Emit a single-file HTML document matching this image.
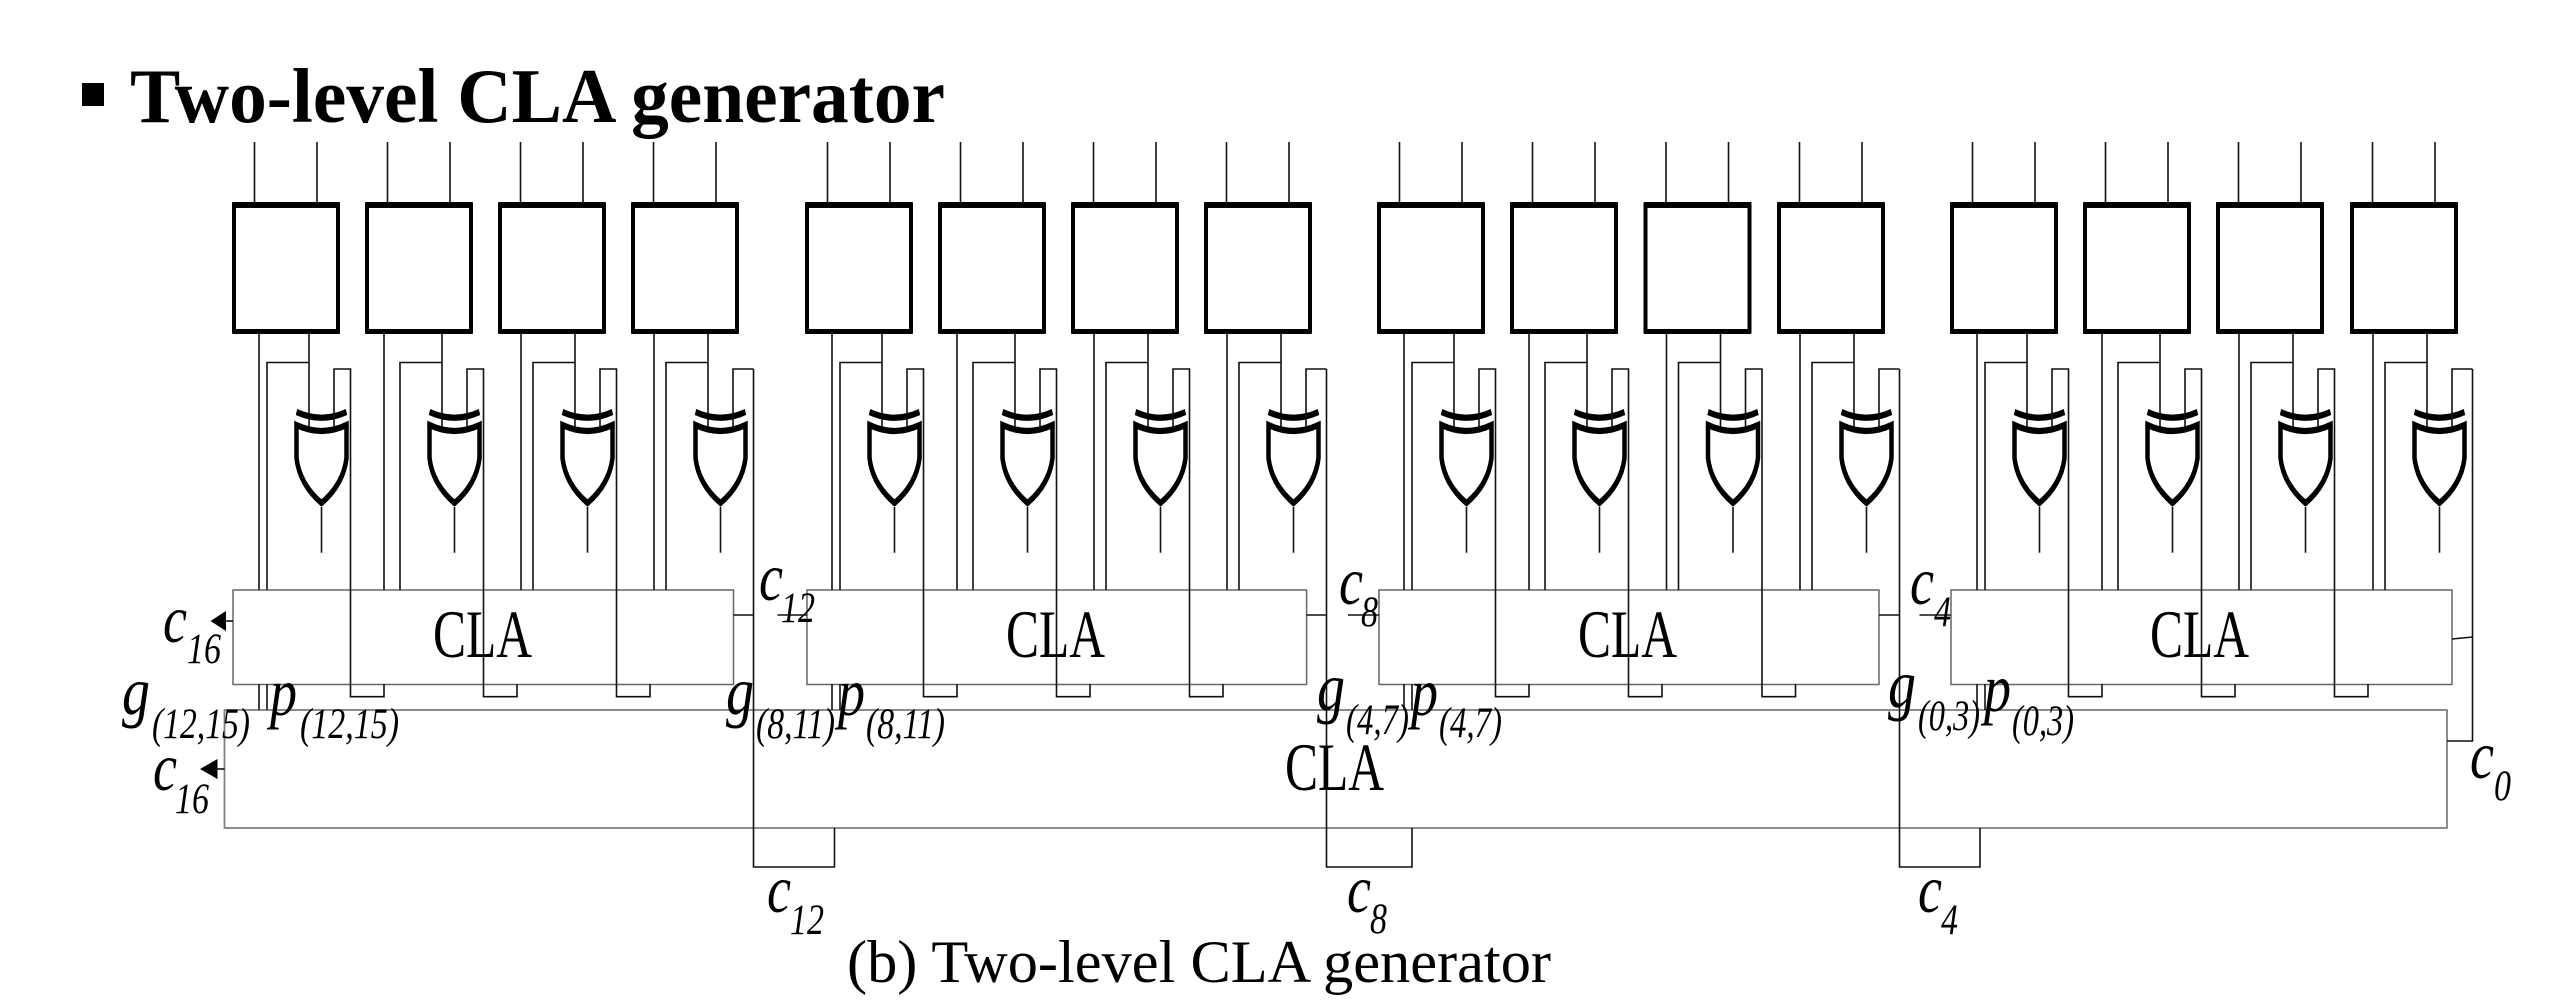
<!DOCTYPE html>
<html><head><meta charset="utf-8"><style>
html,body{margin:0;padding:0;background:#fff;}
svg{display:block;}
text{font-family:"Liberation Serif",serif;fill:#000;}
.i{font-style:italic;}
.c{font-size:68px;}
.s{font-size:43px;}
.w{fill:none;stroke:#111;stroke-width:1.6;}
.b{fill:#fff;stroke:#666;stroke-width:1.5;}
.g{fill:none;stroke:#000;stroke-width:4.5;stroke-linejoin:miter;}
</style></head><body>
<svg width="2570" height="1000" viewBox="0 0 2570 1000" xmlns="http://www.w3.org/2000/svg">
<defs>
<g id="xor">
<g transform="scale(1,1.4)">
<path class="g" d="M-25 294.3Q0 302.5 25 294.3"/>
<path class="g" d="M-25 303.6Q0 312.1 25 303.6V327.1Q22 345.7 0 359.3Q-22 345.7-25 327.1Z"/>
</g>
<path class="w" d="M0 507V552.7"/>
</g>
<g id="common">
<path fill="#000" fill-rule="evenodd" d="M1 202H107Q108 202 108 203V333Q108 334 107 334H1Q0 334 0 333V203Q0 202 1 202ZM4 208V329H104V208Z"/>
<path class="w" d="M22.5 142V202M85 142V202M77 334V428M77 362.5H35V590"/>
<use href="#xor" x="89.5"/>
</g>
<g id="s1"><use href="#common"/><path class="w" d="M27 334V590M27 684V710M35 684V710M102 428V369H118.5V696.7H152V684"/></g>
<g id="s2"><use href="#common"/><path class="w" d="M19 334V590M102 428V369H118.5V696.7H152V684"/></g>
<g id="s3"><use href="#common"/><path class="w" d="M23 334V590M102 428V369H118.5V696.7H152V684"/></g>
<g id="s4"><use href="#common"/><path class="w" d="M23 334V590M102 428V369H122.5"/></g>
</defs>

<rect x="82" y="83" width="22" height="23" fill="#000"/>
<text x="130" y="122" font-size="77" font-weight="bold" textLength="815" lengthAdjust="spacingAndGlyphs">Two-level CLA generator</text>

<rect class="b" x="224.5" y="710" width="2222.5" height="118" style="stroke:#808080;stroke-width:1.8"/>
<rect class="b" x="233" y="590" width="500.5" height="94.5"/>
<rect class="b" x="807" y="590" width="499.6" height="94.5"/>
<rect class="b" x="1379" y="590" width="500" height="94.5"/>
<rect class="b" x="1951" y="590" width="501" height="94.5"/>

<use href="#s1" x="232"/><use href="#s2" x="365"/><use href="#s3" x="498"/><use href="#s4" x="631"/>
<use href="#s1" x="805"/><use href="#s2" x="938"/><use href="#s3" x="1071"/><use href="#s4" x="1204"/>
<use href="#s1" x="1377"/><use href="#s2" x="1510"/><use href="#s3" x="1643.5"/><use href="#s4" x="1777"/>
<use href="#s1" x="1950"/><use href="#s2" x="2083"/><use href="#s3" x="2216"/><use href="#s4" x="2350"/>

<!-- carry routing -->
<path class="w" d="M753.5 369V867H834.5V828M733.5 615H753.5M777.5 615H807"/>
<path class="w" d="M1326.5 369V867H1412V828M1306.6 615H1326.5M1348 615H1379"/>
<path class="w" d="M1899.5 369V867H1980V828M1879 615H1899.5M1919.5 615H1951"/>
<path class="w" d="M2472.5 369V741H2447M2452 639L2472.5 637"/>

<!-- c16 arrows -->
<path d="M210.5 621L226 611V631Z" fill="#000"/><path class="w" d="M226 621H233"/>
<path d="M200 769L217.5 759V779Z" fill="#000"/><path class="w" d="M217 769H224.5"/>

<!-- CLA labels -->
<text class="c" x="433" y="657" textLength="99" lengthAdjust="spacingAndGlyphs">CLA</text>
<text class="c" x="1006" y="657" textLength="99" lengthAdjust="spacingAndGlyphs">CLA</text>
<text class="c" x="1578" y="657" textLength="99" lengthAdjust="spacingAndGlyphs">CLA</text>
<text class="c" x="2150" y="657" textLength="99" lengthAdjust="spacingAndGlyphs">CLA</text>
<text class="c" x="1285" y="790" textLength="99" lengthAdjust="spacingAndGlyphs">CLA</text>

<!-- carries -->
<text class="i c" x="163" y="642" textLength="24" lengthAdjust="spacingAndGlyphs">c</text>
<text class="i s" x="187" y="663" textLength="34" lengthAdjust="spacingAndGlyphs">16</text>
<text class="i c" x="759" y="600" textLength="24" lengthAdjust="spacingAndGlyphs">c</text>
<text class="i s" x="781" y="622" textLength="34" lengthAdjust="spacingAndGlyphs">12</text>
<text class="i c" x="1339" y="604" textLength="24" lengthAdjust="spacingAndGlyphs">c</text>
<text class="i s" x="1361" y="626" textLength="17" lengthAdjust="spacingAndGlyphs">8</text>
<text class="i c" x="1910" y="604" textLength="24" lengthAdjust="spacingAndGlyphs">c</text>
<text class="i s" x="1934" y="626" textLength="17" lengthAdjust="spacingAndGlyphs">4</text>
<text class="i c" x="153" y="790" textLength="24" lengthAdjust="spacingAndGlyphs">c</text>
<text class="i s" x="175" y="813" textLength="34" lengthAdjust="spacingAndGlyphs">16</text>
<text class="i c" x="767" y="912" textLength="24" lengthAdjust="spacingAndGlyphs">c</text>
<text class="i s" x="790" y="934" textLength="34" lengthAdjust="spacingAndGlyphs">12</text>
<text class="i c" x="1347" y="912" textLength="24" lengthAdjust="spacingAndGlyphs">c</text>
<text class="i s" x="1370" y="933" textLength="17" lengthAdjust="spacingAndGlyphs">8</text>
<text class="i c" x="1918" y="912" textLength="24" lengthAdjust="spacingAndGlyphs">c</text>
<text class="i s" x="1941" y="934" textLength="17" lengthAdjust="spacingAndGlyphs">4</text>
<text class="i c" x="2470" y="778" textLength="24" lengthAdjust="spacingAndGlyphs">c</text>
<text class="i s" x="2494" y="800" textLength="17" lengthAdjust="spacingAndGlyphs">0</text>

<!-- g / p -->
<text class="i c" x="122" y="714" textLength="28" lengthAdjust="spacingAndGlyphs">g</text>
<text class="i s" x="152" y="738" textLength="98" lengthAdjust="spacingAndGlyphs">(12,15)</text>
<text class="i c" x="270" y="715" textLength="27" lengthAdjust="spacingAndGlyphs">p</text>
<text class="i s" x="300" y="738" textLength="99" lengthAdjust="spacingAndGlyphs">(12,15)</text>
<text class="i c" x="726" y="714" textLength="28" lengthAdjust="spacingAndGlyphs">g</text>
<text class="i s" x="756" y="738" textLength="79" lengthAdjust="spacingAndGlyphs">(8,11)</text>
<text class="i c" x="838" y="715" textLength="27" lengthAdjust="spacingAndGlyphs">p</text>
<text class="i s" x="866" y="738" textLength="79" lengthAdjust="spacingAndGlyphs">(8,11)</text>
<text class="i c" x="1317" y="710" textLength="28" lengthAdjust="spacingAndGlyphs">g</text>
<text class="i s" x="1346" y="734" textLength="63" lengthAdjust="spacingAndGlyphs">(4,7)</text>
<text class="i c" x="1411" y="715" textLength="27" lengthAdjust="spacingAndGlyphs">p</text>
<text class="i s" x="1439" y="737" textLength="63" lengthAdjust="spacingAndGlyphs">(4,7)</text>
<text class="i c" x="1888" y="707" textLength="28" lengthAdjust="spacingAndGlyphs">g</text>
<text class="i s" x="1918" y="730" textLength="62" lengthAdjust="spacingAndGlyphs">(0,3)</text>
<text class="i c" x="1984" y="711" textLength="27" lengthAdjust="spacingAndGlyphs">p</text>
<text class="i s" x="2012" y="735" textLength="62" lengthAdjust="spacingAndGlyphs">(0,3)</text>

<text x="847" y="982" font-size="60" textLength="704" lengthAdjust="spacingAndGlyphs">(b) Two-level CLA generator</text>
</svg>
</body></html>
